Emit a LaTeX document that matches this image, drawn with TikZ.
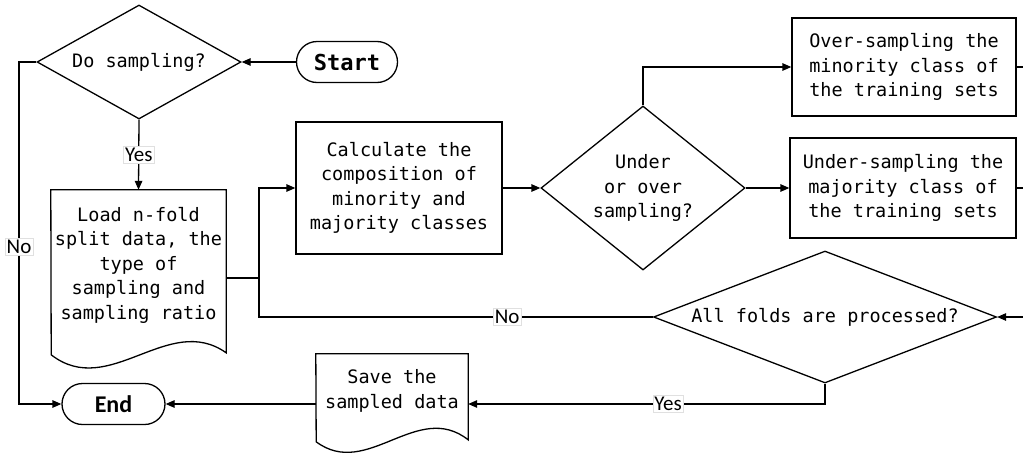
\documentclass[tikz,border=0pt]{standalone}
\usepackage{fontspec}
\setmonofont{DejaVu Sans Mono}
\newfontfamily\calib{Carlito}
\usetikzlibrary{shapes.geometric,shapes.misc,arrows.meta,calc}
\begin{document}
\begin{tikzpicture}[x=1pt,y=-1pt,
  every node/.style={font=\fontsize{18.5}{24.5}\selectfont\ttfamily, align=center, inner sep=0pt},
  box/.style={draw, line width=1.3pt, rectangle},
  dec/.style={draw, line width=1.3pt, diamond},
  term/.style={draw, line width=1.3pt, rounded rectangle, minimum height=41pt},
  docbox/.style={rectangle},
  outline/.style={line width=1.3pt, line join=miter},
  conn/.style={line width=1.3pt},
  arr/.style={conn, -{Triangle[length=9pt,width=7.5pt]}},
  lbl/.style={font=\calib\fontsize{21}{23}\selectfont, fill=white, draw=black!12, line width=0.4pt, inner sep=1.5pt}
]
\useasboundingbox (0,0) rectangle (1023,453);

% nodes
\node[dec, aspect=1.79, minimum width=204pt, minimum height=114pt] (dosamp) at (139,62) {Do sampling?};
\node[term, minimum width=101pt, font=\ttfamily\bfseries\fontsize{22}{24}\selectfont] (start) at (347,62) {Start};
\node[term, minimum width=103pt, font=\calib\bfseries\fontsize{24}{26}\selectfont] (end) at (113.5,404) {End};
\node[docbox, minimum width=175pt, minimum height=150pt] (load) at (138.5,265) {Load n-fold\\split data, the\\type of\\sampling and\\sampling ratio};
\node[box, minimum width=206pt, minimum height=132pt] (calc) at (399,188) {Calculate the\\composition of\\minority and\\majority classes};
\node[dec, aspect=1.24, minimum width=204pt, minimum height=164pt] (uo) at (643,188) {Under\\or over\\sampling?};
\node[box, minimum width=224pt, minimum height=98pt] (over) at (904,67) {Over-sampling the\\minority class of\\the training sets};
\node[box, minimum width=226pt, minimum height=100pt] (under) at (903,188) {Under-sampling the\\majority class of\\the training sets};
\node[dec, aspect=2.6, minimum width=343pt, minimum height=132pt] (folds) at (825,317) {All folds are processed?};
\node[docbox, minimum width=152pt, minimum height=74pt] (save) at (392,391) {Save the\\sampled data};

% document outlines
\draw[outline] (load.north west) -- (load.north east) -- ++(0,163)
  .. controls ++(-58,-41) and ++(58,45) .. ++(-175,2) -- cycle;
\draw[outline] (save.north west) -- (save.north east) -- ++(0,86)
  .. controls ++(-51,-40) and ++(51,38) .. ++(-152,2) -- cycle;

% helper coordinates
\coordinate (nl) at (19,0);
\coordinate (j) at (259,278);
\coordinate (edge) at (1023,0);

% connectors
\draw[arr] (start) -- (dosamp.east);
\draw[arr] (dosamp.south) -- node[lbl, pos=0.5] {Yes} (load.north);
\draw[arr] (dosamp.west) -- (dosamp.west -| nl) -- node[lbl, pos=0.54] {No} (end.west -| nl) -- (end.west);
\draw[conn] ([yshift=-13pt]load.east) -- (j);
\draw[arr] (j) |- (calc.west);
\draw[conn] (folds.west) -- node[lbl, pos=0.37] {No} (folds.west -| j) -- (j);
\draw[arr] (calc.east) -- (uo.west);
\draw[arr] (uo.north) |- (over.west);
\draw[arr] (uo.east) -- (under.west);
\draw[conn] (over.east) -- (over.east -| edge);
\draw[conn] (under.east) -- (under.east -| edge);
\draw[arr] (folds.east -| edge) -- (folds.east);
\draw[arr] (folds.south) |- node[lbl, pos=0.72] {Yes} ([yshift=-13pt]save.east);
\draw[arr] ([yshift=-13pt]save.west) -- (end.east);
\end{tikzpicture}
\end{document}
